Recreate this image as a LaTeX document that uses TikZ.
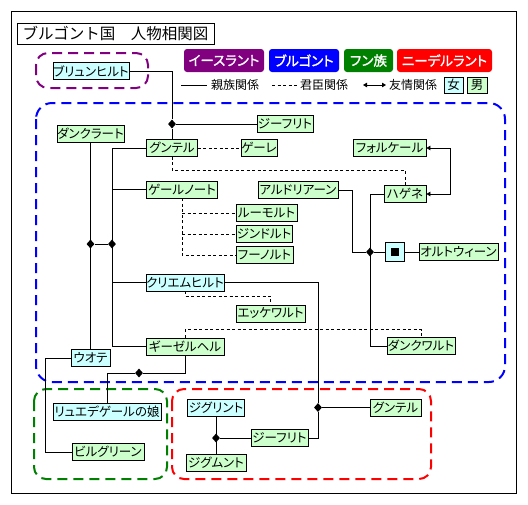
\documentclass[tikz,border=0pt]{standalone}
\usepackage{fontspec}
\setmainfont{Noto Sans CJK JP}[RawFeature={+palt}]
\newfontfamily\jpplain{Noto Sans CJK JP}
\newfontfamily\jpbold{Noto Sans CJK JP}[FakeBold=1.5,RawFeature={+palt}]
\usetikzlibrary{shapes.geometric,arrows.meta}
\definecolor{mgreen}{HTML}{CCFFCC}
\definecolor{mcyan}{HTML}{CCFFFF}
\definecolor{lpurple}{HTML}{800080}
\definecolor{lblue}{HTML}{0000FF}
\definecolor{lgreen}{HTML}{008000}
\definecolor{lred}{HTML}{FF0000}
\begin{document}
\begin{tikzpicture}[x=1pt,y=-1pt,
 man/.style={draw=black, line width=0.8pt, fill=mgreen, inner sep=0pt, minimum height=17pt, font=\fontsize{12.5}{13}\selectfont},
 woman/.style={man, fill=mcyan},
 jn/.style={diamond, fill=black, inner sep=0pt, minimum width=8pt, minimum height=9pt},
 conn/.style={line width=0.8pt},
 vass/.style={conn, dash pattern=on 3pt off 2.5pt},
 frnd/.style={conn, {Triangle[length=4pt,width=4.5pt]}-{Triangle[length=4pt,width=4.5pt]}},
 region/.style={line width=2pt, dash pattern=on 10pt off 6pt, rounded corners=12pt},
 legbox/.style={rounded corners=3pt, inner sep=0pt, minimum height=23pt, text=white, font=\jpbold\fontsize{13.5}{14}\selectfont},
 legtext/.style={anchor=west, inner sep=0pt, font=\fontsize{12}{12}\selectfont}
]
\useasboundingbox (0,0) rectangle (528,504);
\fill[white] (0,0) rectangle (528,504);
\draw[line width=1pt] (11,11) rectangle (516,493);

% title
\node[draw, line width=1pt, minimum width=197pt, minimum height=21pt, inner sep=0pt, font=\jpplain\fontsize{15.5}{18}\selectfont] (title) at (115.5,33.5) {ブルゴント国　人物相関図};

% legend
\node[legbox, fill=lpurple, minimum width=80pt] (lgis) at (224,60.5) {イースラント};
\node[legbox, fill=lblue, minimum width=70pt] (lgbu) at (304,60.5) {ブルゴント};
\node[legbox, fill=lgreen, minimum width=49pt] (lghu) at (368.5,60.5) {フン族};
\node[legbox, fill=lred, minimum width=95pt] (lgni) at (444.5,60.5) {ニーデルラント};

\coordinate (k1) at (181,85); \coordinate (k2) at (207,85);
\draw[conn] (k1) -- (k2);
\node[legtext] (kt) at (211,85) {親族関係};
\coordinate (v1) at (272,85); \coordinate (v2) at (298,85);
\draw[vass] (v1) -- (v2);
\node[legtext] (vt) at (300,85) {君臣関係};
\coordinate (f1) at (363,85); \coordinate (f2) at (386,85);
\draw[frnd] (f1) -- (f2);
\node[legtext] (ft) at (389,85) {友情関係};
\node[woman, minimum width=19pt, minimum height=16pt, font=\fontsize{12.5}{12}\selectfont] (lw) at (453.5,85) {女};
\node[man, minimum width=20pt, minimum height=16pt, font=\fontsize{12.5}{12}\selectfont] (lm) at (477,85) {男};

% regions
\draw[region, lpurple] (36,53) rectangle (148,88);
\draw[region, lblue, rounded corners=16pt] (36,103) rectangle (505,382);
\draw[region, lgreen] (34,389) rectangle (167,479);
\draw[region, lred] (172,389) rectangle (431,479);

% persons
\node[woman, minimum width=76pt] (brunhild) at (91,71) {ブリュンヒルト};
\node[man, minimum width=67pt] (dankrat) at (90.5,133.5) {ダンクラート};
\node[man, minimum width=51pt] (gunther) at (172,148) {グンテル};
\node[man, minimum width=36pt] (gere) at (259,148) {ゲーレ};
\node[man, minimum width=56pt] (siegfried) at (285,124) {ジーフリト};
\node[man, minimum width=71pt] (gernot) at (182,189.5) {ゲールノート};
\node[man, minimum width=61pt] (rumold) at (266.5,213) {ルーモルト};
\node[man, minimum width=56pt] (sindold) at (264,234) {ジンドルト};
\node[man, minimum width=57pt] (hunold) at (264.5,255) {フーノルト};
\node[man, minimum width=80pt] (aldrian) at (298,190) {アルドリアーン};
\node[man, minimum width=73pt] (volker) at (389.5,148) {フォルケール};
\node[man, minimum width=42pt] (hagen) at (405,194) {ハゲネ};
\node[woman, minimum width=19pt, minimum height=19pt] (sq) at (394.5,252) {\rule{8pt}{8pt}};
\node[man, minimum width=79pt] (ortwin) at (458.5,252) {オルトウィーン};
\node[woman, minimum width=78pt] (kriemhild) at (185,282.5) {クリエムヒルト};
\node[man, minimum width=69pt] (eckewart) at (270.5,313.5) {エッケワルト};
\node[man, minimum width=78pt] (giselher) at (185,346.5) {ギーゼルヘル};
\node[man, minimum width=68pt] (dankwart) at (421,346) {ダンクワルト};
\node[woman, minimum width=39pt] (ute) at (90.5,358) {ウオテ};
\node[woman, minimum width=108pt] (rued) at (107,412) {リュエデゲールの娘};
\node[man, minimum width=72pt] (pilgrin) at (108,452) {ビルグリーン};
\node[woman, minimum width=57pt] (sigelind) at (216,407.5) {ジグリント};
\node[man, minimum width=60pt] (sigmund) at (216,463) {ジグムント};
\node[man, minimum width=57pt] (siegfried2) at (279.5,438) {ジーフリト};
\node[man, minimum width=51pt] (gunther2) at (395.5,407.5) {グンテル};

% junctions
\node[jn] (d1) at (172,124) {};
\node[jn] (d2) at (112,244) {};
\node[jn] (d3) at (90.5,244) {};
\node[jn] (d4) at (370,252) {};
\node[jn] (d5) at (139,373) {};
\node[jn] (d6) at (216,438) {};
\node[jn] (d7) at (318,407.5) {};

% kinship
\draw[conn] (brunhild.east) -| (d1);
\draw[conn] (d1) -- (siegfried.west);
\draw[conn] (d1) -- (gunther.north);
\draw[conn] (gunther.west) -- (gunther.west -| d2) |- (giselher.west);
\draw[conn] (gernot.west) -- (gernot.west -| d2);
\draw[conn] (kriemhild.west) -- (kriemhild.west -| d2);
\draw[conn] (d3) -- (d2);
\draw[conn] (dankrat.south) -- (ute.north);
\draw[conn] (aldrian.east) -- ++(14,0) |- (d4);
\draw[conn] (hagen.west) -- (hagen.west -| d4) |- (dankwart.west);
\draw[conn] (d4) -- (sq.west);
\draw[conn] (sq.east) -- (ortwin.west);
\draw[conn] (kriemhild.east) -| (d7) |- (siegfried2.east);
\draw[conn] (d7) -- (gunther2.west);
\draw[conn] (ute.west) -- ++(-25,0) |- (pilgrin.west);
\draw[conn] (giselher.south) |- (d5) -| (rued.north);
\draw[conn] (sigelind.south) -- (sigmund.north);
\draw[conn] (d6) -- (siegfried2.west);

% vassals
\draw[vass] (gunther.east) -- (gere.west);
\draw[vass] (gunther.south) -- ++(0,13.5) -| (hagen.north);
\draw[vass] (gernot.south) -- (gernot.south |- hunold.west) -- (hunold.west);
\draw[vass] (gernot.south |- rumold.west) -- (rumold.west);
\draw[vass] (gernot.south |- sindold.west) -- (sindold.west);
\draw[vass] (kriemhild.south) -- ++(0,5) -| (eckewart.north);
\draw[vass] (giselher.north) -- ++(0,-8) -| (dankwart.north);

% friendship
\draw[frnd] (volker.east) -- ++(24,0) |- (hagen.east);
\end{tikzpicture}
\end{document}
